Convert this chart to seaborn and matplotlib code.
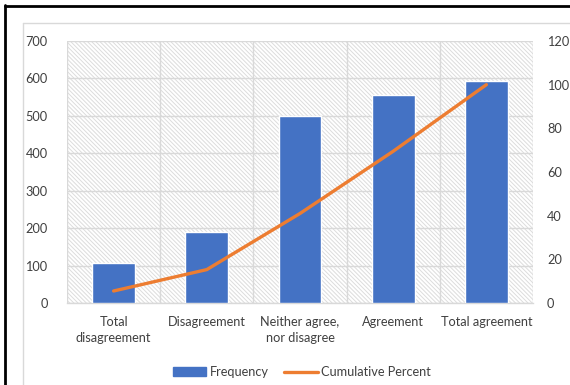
import matplotlib
matplotlib.use("Agg")
import matplotlib.pyplot as plt
from matplotlib.patches import Rectangle, Patch
from matplotlib.lines import Line2D
import seaborn as sns
import pandas as pd

categories = ["Total\ndisagreement", "Disagreement", "Neither agree,\nnor disagree",
              "Agreement", "Total agreement"]
frequency = [108, 190, 500, 555, 593]
cumulative_percent = [5.5, 15.3, 41.0, 69.5, 100.0]

BLUE = "#4472C4"
ORANGE = "#ED7D31"
GRID = "#d9d9d9"
TEXT = "#404040"
FS = 9.2

sns.set_theme(style="white")
plt.rcParams["font.family"] = ["Lato", "DejaVu Sans"]
plt.rcParams["hatch.linewidth"] = 0.7

df = pd.DataFrame({"category": categories, "frequency": frequency,
                   "cum": cumulative_percent, "pos": range(len(categories))})

fig = plt.figure(figsize=(5.7, 3.85), dpi=100)
ax = fig.add_axes([67 / 570, 1 - 303 / 385, (533 - 67) / 570, (303 - 41) / 385])

# hatched plot-area background
ax.add_patch(Rectangle((0, 0), 1, 1, transform=ax.transAxes, facecolor="white",
                       edgecolor="#dcdcdc", linewidth=0, hatch="\\" * 8, zorder=0))

sns.barplot(data=df, x="category", y="frequency", color=BLUE, width=0.46,
            saturation=1, ax=ax, zorder=3)
ax.set_xlim(-0.5, 4.5)
ax.set_ylim(0, 700)
ax.set_yticks(range(0, 701, 100))
ax.set_xlabel("")
ax.set_ylabel("")
ax.set_xticks(range(5))
ax.set_xticklabels(categories, fontsize=FS, color=TEXT, linespacing=1.45)
ax.set_xticks([-0.5, 0.5, 1.5, 2.5, 3.5, 4.5], minor=True)
ax.tick_params(axis="x", which="major", length=0, pad=9)
ax.tick_params(axis="x", which="minor", length=5, color=GRID, width=1)
ax.tick_params(axis="y", length=0, pad=14, labelsize=FS, labelcolor=TEXT)
ax.grid(axis="y", color=GRID, linewidth=1, zorder=1)
ax.grid(axis="x", which="minor", color=GRID, linewidth=1, zorder=1)
ax.grid(axis="x", which="major", visible=False)
for s in ["left", "right", "top"]:
    ax.spines[s].set_visible(False)
ax.spines["bottom"].set_color(GRID)
ax.spines["bottom"].set_linewidth(1)

ax2 = ax.twinx()
sns.lineplot(data=df, x="pos", y="cum", color=ORANGE, linewidth=2.4, ax=ax2,
             solid_capstyle="round")
ax2.set_ylim(0, 120)
ax2.set_yticks(range(0, 121, 20))
ax2.set_xlim(-0.5, 4.5)
ax2.set_ylabel("")
ax2.set_xlabel("")
ax2.tick_params(axis="y", length=0, pad=10, labelsize=FS, labelcolor=TEXT)
for s in ax2.spines.values():
    s.set_visible(False)

handles = [Patch(facecolor=BLUE, edgecolor=BLUE),
           Line2D([0], [0], color=ORANGE, linewidth=2.4)]
fig.legend(handles, ["Frequency", "Cumulative Percent"], loc="center",
           bbox_to_anchor=(302 / 570, 1 - 372 / 385), ncol=2, frameon=False,
           fontsize=FS, labelcolor=TEXT, handlelength=2.6, handletextpad=0.3,
           columnspacing=1.2, handleheight=0.6)

# chart frame: outer black edge and inner light-grey chart-area edge
fig.add_artist(Line2D([5 / 570, 5 / 570], [0, 1 - 5 / 385], color="black",
                      linewidth=2, transform=fig.transFigure))
fig.add_artist(Line2D([5 / 570, 1], [1 - 6 / 385, 1 - 6 / 385], color="black",
                      linewidth=2, transform=fig.transFigure))
fig.add_artist(Line2D([23 / 570, 23 / 570], [0, 1 - 23 / 385], color=GRID,
                      linewidth=1, transform=fig.transFigure))
fig.add_artist(Line2D([23 / 570, 1], [1 - 23 / 385, 1 - 23 / 385], color=GRID,
                      linewidth=1, transform=fig.transFigure))

fig.savefig("out.png", dpi=100)
